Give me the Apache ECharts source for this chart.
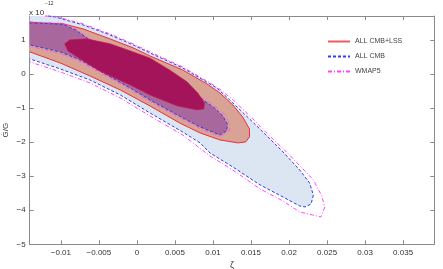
<!DOCTYPE html>
<html><head><meta charset="utf-8">
<script src="https://cdn.jsdelivr.net/npm/echarts@6/dist/echarts.min.js"></script>
<style>html,body{margin:0;padding:0;background:#fff}#c{width:443px;height:269px}</style>
</head><body><div id="c"></div>
<script>
// Axis ranges (zeta, Gdot/G in units of 1e-12)
const xRange = [-0.0141, 0.0391];
const yRange = [-5, 1.71];
const seriesNames = ['ALL CMB+LSS', 'ALL CMB', 'WMAP5'];

// ALL CMB 95% contour (open boundary from top edge to left edge)
const cmb95 = [[-0.0117,1.71],[-0.0108,1.685],[-0.0071,1.45],[-0.00355,1.155],[-0.0005,0.86],[0.0017,0.626],[0.006,0.185],[0.0105,-0.405],[0.0122,-0.756],[0.0148,-1.315],[0.0171,-1.815],[0.0192,-2.285],[0.0214,-2.815],[0.0227,-3.197],[0.0232,-3.55],[0.0229,-3.815],[0.0221,-3.903],[0.0214,-3.874],[0.0192,-3.609],[0.0162,-3.256],[0.0126,-2.726],[0.0096,-2.315],[0.0083,-2.02],[0.006,-1.697],[0.0017,-1.138],[-0.0022,-0.609],[-0.0062,-0.168],[-0.0101,0.156],[-0.0141,0.45]];
const cmb95Corner = [[-0.0141,1.71]];
// WMAP5 95% contour
const wmap95 = [[-0.0121,1.71],[-0.0108,1.70],[-0.0071,1.48],[-0.00355,1.185],[-0.0005,0.89],[0.0017,0.656],[0.006,0.215],[0.0105,-0.374],[0.0125,-0.726],[0.0151,-1.285],[0.0173,-1.785],[0.0194,-2.226],[0.0217,-2.756],[0.0232,-3.109],[0.0243,-3.579],[0.0247,-3.903],[0.0242,-4.197],[0.0231,-4.138],[0.0214,-4.05],[0.0192,-3.726],[0.0162,-3.374],[0.0126,-2.815],[0.0096,-2.403],[0.006,-1.785],[0.0017,-1.226],[-0.0022,-0.697],[-0.0062,-0.256],[-0.0101,0.068],[-0.0141,0.362]];
// ALL CMB+LSS 95% contour
const lss95 = [[-0.0141,1.524],[-0.0097,1.48],[-0.0071,1.332],[-0.00355,1.038],[-0.0005,0.774],[0.0017,0.538],[0.006,0.126],[0.0092,-0.285],[0.0109,-0.55],[0.0126,-0.903],[0.0139,-1.256],[0.0148,-1.609],[0.0148,-1.844],[0.0143,-1.99],[0.0133,-2.02],[0.0109,-1.932],[0.0083,-1.726],[0.0056,-1.432],[0.0017,-0.932],[-0.0022,-0.462],[-0.0062,-0.05],[-0.0101,0.332],[-0.0141,0.656]];
// ALL CMB 68% contour
const cmb68 = [[-0.0141,1.509],[-0.0097,1.465],[-0.0081,1.303],[-0.0062,1.009],[-0.0009,0.362],[0.0043,-0.285],[0.0087,-0.756],[0.0102,-0.991],[0.0113,-1.226],[0.0119,-1.465],[0.0118,-1.668],[0.0109,-1.785],[0.0083,-1.55],[0.0053,-1.197],[0.0017,-0.756],[-0.0009,-0.403],[-0.0049,0.097],[-0.0075,0.421],[-0.0101,0.656],[-0.0141,0.862]];
// WMAP5 68% contour
const wmap68 = [[-0.0141,1.538],[-0.0097,1.494],[-0.0081,1.332],[-0.0062,1.038],[-0.0009,0.391],[0.0043,-0.256],[0.0088,-0.726],[0.0104,-0.962],[0.0116,-1.197],[0.0122,-1.465],[0.0121,-1.697],[0.0109,-1.83],[0.0083,-1.594],[0.0053,-1.24],[0.0017,-0.8],[-0.0009,-0.447],[-0.0049,0.053],[-0.0075,0.376],[-0.0101,0.612],[-0.0141,0.818]];
// ALL CMB+LSS 68% contour (closed)
const lss68 = [[-0.0095,0.891],[-0.0088,1.009],[-0.0066,1.038],[-0.0035,0.891],[-0.0009,0.685],[0.0017,0.479],[0.0043,0.126],[0.0066,-0.226],[0.008,-0.55],[0.0089,-0.844],[0.0088,-1.02],[0.0079,-1.05],[0.0053,-0.932],[0.003,-0.726],[0.0017,-0.609],[-0.0009,-0.315],[-0.0049,0.097],[-0.0075,0.45],[-0.0091,0.685]];

function region(name, pts, extra, fill, stroke, dash, width, closed) {
  return {
    type: 'custom', name: name, data: pts, silent: true, z: 2,
    renderItem: function (params, api) {
      if (params.dataIndex !== 0) return null;
      const line = pts.map(function (p) { return api.coord(p); });
      const poly = line.concat(extra.map(function (p) { return api.coord(p); }));
      const children = [];
      if (fill) children.push({ type: 'polygon', shape: { points: poly }, style: { fill: fill, stroke: null } });
      if (stroke) children.push({ type: closed ? 'polygon' : 'polyline', shape: { points: line },
        style: { fill: null, stroke: stroke, lineWidth: width, lineDash: dash } });
      return { type: 'group', children: children };
    }
  };
}

const axisCommon = {
  type: 'value', splitLine: { show: false },
  axisLine: { show: true, onZero: false, lineStyle: { color: '#8a8a8a', width: 1 } },
  axisTick: { show: true, inside: true, length: 4, lineStyle: { color: '#8a8a8a' } }
};
const fmt = function (v) { return String(v).replace('-', '\u2212'); };
const FONT = 'Liberation Sans, Arial, sans-serif';

const chart = echarts.init(document.getElementById('c'), null, { renderer: 'canvas' });
chart.setOption({
  animation: false,
  grid: { left: 29.7, right: 8.7, top: 16, bottom: 24.7, containLabel: false, outerBoundsMode: 'none' },
  xAxis: [
    Object.assign({}, axisCommon, { position: 'bottom', min: xRange[0], max: xRange[1], splitNumber: 10, minInterval: 0.005, maxInterval: 0.005,
      name: '\u03b6', nameLocation: 'middle', nameGap: 13, nameTextStyle: { fontSize: 9, color: '#333', fontFamily: FONT },
      axisLabel: { fontSize: 8, color: '#333', margin: 4, fontFamily: FONT, showMinLabel: false, showMaxLabel: false, formatter: fmt } }),
    Object.assign({}, axisCommon, { position: 'top', min: xRange[0], max: xRange[1], splitNumber: 10, minInterval: 0.005, maxInterval: 0.005,
      axisLabel: { show: false } })
  ],
  yAxis: [
    Object.assign({}, axisCommon, { position: 'left', min: yRange[0], max: yRange[1], interval: 1,
      name: '\u0120/G', nameLocation: 'middle', nameGap: 20, nameRotate: 90, nameMoveOverlap: false,
      nameTextStyle: { fontSize: 8, color: '#333', fontFamily: FONT },
      axisLabel: { fontSize: 8, color: '#333', margin: 4, fontFamily: FONT, showMaxLabel: false, formatter: fmt } }),
    Object.assign({}, axisCommon, { position: 'right', min: yRange[0], max: yRange[1], interval: 1,
      axisLabel: { show: false } })
  ],
  legend: {
    orient: 'vertical', left: 322, top: 33, itemWidth: 22, itemHeight: 6, itemGap: 8,
    data: seriesNames, itemStyle: { opacity: 0 },
    textStyle: { fontSize: 7, color: '#444', fontFamily: FONT }
  },
  graphic: [
    { type: 'text', left: 29, top: 9, style: { text: 'x 10', fontSize: 8, fill: '#333', fontFamily: FONT } },
    { type: 'text', left: 45, top: 1, style: { text: '\u221212', fontSize: 5, fill: '#333', fontFamily: FONT } }
  ],
  series: [
    region('cmb95', cmb95, cmb95Corner, '#dce5f2', '#2f3ddc', [3, 2], 1, false),
    region('wmap95', wmap95, [], null, '#ff44ff', [4, 2, 1, 2], 1, false),
    region('lss95', lss95, [], '#d8a294', '#ec2f3a', null, 1, false),
    region('cmb68', cmb68, [], '#a8689e', '#2f3ddc', [3, 2], 1, false),
    region('wmap68', wmap68, [], null, '#ff44ff', [4, 2, 1, 2], 0.8, false),
    region('lss68', lss68, [], '#a3145a', '#d01a4a', null, 0.6, true),
    { type: 'line', name: seriesNames[0], data: [], symbol: 'none', color: '#f05c5c', lineStyle: { color: '#f05c5c', width: 1.5 } },
    { type: 'line', name: seriesNames[1], data: [], symbol: 'none', color: '#3d3de8', lineStyle: { color: '#3d3de8', width: 1.2, type: [3, 2] } },
    { type: 'line', name: seriesNames[2], data: [], symbol: 'none', color: '#ff44ff', lineStyle: { color: '#ff44ff', width: 1.2, type: [4, 2, 1, 2] } }
  ]
});
</script></body></html>
